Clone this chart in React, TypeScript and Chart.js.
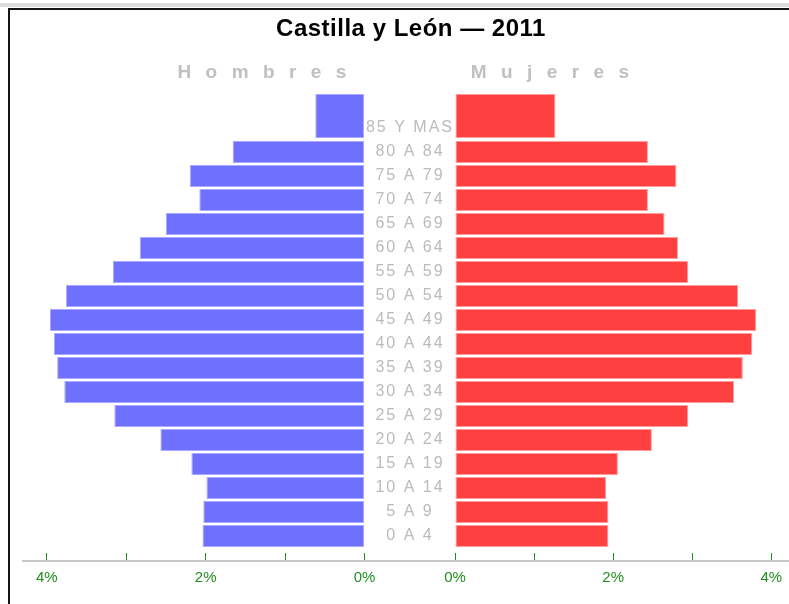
import { useEffect, useRef } from 'react';
import { Chart, registerables } from 'chart.js';

Chart.register(...registerables);

// ---------- data ----------
const TITLE = 'Castilla y León — 2011';
const SIDE_LABELS = ['Hombres', 'Mujeres'];
const AGE_GROUPS = [
  '85 Y MAS', '80 A 84', '75 A 79', '70 A 74', '65 A 69', '60 A 64', '55 A 59',
  '50 A 54', '45 A 49', '40 A 44', '35 A 39', '30 A 34', '25 A 29', '20 A 24',
  '15 A 19', '10 A 14', '5 A 9', '0 A 4',
];
const HOMBRES = [0.62, 1.66, 2.2, 2.08, 2.5, 2.83, 3.17, 3.76, 3.96, 3.91, 3.87, 3.78, 3.15, 2.57, 2.18, 1.99, 2.03, 2.04];
const MUJERES = [1.27, 2.44, 2.8, 2.44, 2.65, 2.82, 2.95, 3.58, 3.81, 3.76, 3.64, 3.53, 2.95, 2.49, 2.06, 1.91, 1.94, 1.94];
const X_TICKS = [0, 1, 2, 3, 4];
const X_TICK_LABELS = ['0%', '', '2%', '', '4%'];

// ---------- layout / style ----------
const GREEN = '#1f8f1f';
const LABEL_GREY = '#bbbbbb';
const X_MAX = 4.3;
const GAP = 1.139;
const Y_MIN = -0.5;
const Y_MAX = 19.042;
const BAR_PCT = 0.9167;

const COLORS = {
  left: { bg: '#7070ff', border: '#a9a9ff' },
  right: { bg: '#ff4040', border: '#ff9c9c' },
};

function makeConfig(values: number[], side: 'left' | 'right'): any {
  const c = COLORS[side];
  const isLeft = side === 'left';
  const common = {
    backgroundColor: c.bg,
    borderColor: c.border,
    borderWidth: 1,
    borderSkipped: false,
    grouped: false,
    barPercentage: BAR_PCT,
  };
  return {
    type: 'bar',
    data: {
      datasets: [
        {
          ...common,
          label: SIDE_LABELS[isLeft ? 0 : 1],
          categoryPercentage: 1,
          data: values.slice(1).map((v, i) => ({ x: v, y: i + 2 })),
        },
        {
          ...common,
          label: AGE_GROUPS[0],
          categoryPercentage: 2,
          data: [{ x: values[0], y: 0.5 }],
        },
      ],
    },
    options: {
      indexAxis: 'y',
      responsive: false,
      animation: false,
      layout: {
        padding: isLeft
          ? { left: 23, right: 20, top: 92, bottom: 1 }
          : { left: 40, right: 5, top: 92, bottom: 1 },
      },
      plugins: {
        legend: { display: false },
        tooltip: { enabled: false },
        title: { display: false },
      },
      scales: {
        x: {
          type: 'linear',
          position: 'bottom',
          reverse: isLeft,
          offset: false,
          min: isLeft ? -GAP : 0,
          max: X_MAX,
          afterBuildTicks: (s: any) => {
            s.ticks = X_TICKS.map((v) => ({ value: v }));
          },
          ticks: {
            autoSkip: false,
            maxRotation: 0,
            color: GREEN,
            padding: 16,
            font: { family: 'Liberation Sans', size: 15 },
            callback: (v: any) => {
              const i = X_TICKS.indexOf(Number(v));
              return i >= 0 ? X_TICK_LABELS[i] : '';
            },
          },
          grid: {
            display: true,
            offset: false,
            drawOnChartArea: false,
            drawTicks: true,
            tickLength: -8,
            color: GREEN,
            lineWidth: 1,
          },
          border: { display: true, color: '#c8c8c8', width: 2 },
        },
        y: {
          type: 'linear',
          position: 'right',
          display: isLeft,
          reverse: true,
          offset: false,
          min: Y_MIN,
          max: Y_MAX,
          afterBuildTicks: (s: any) => {
            s.ticks = AGE_GROUPS.map((_, i) => ({ value: i + 1 }));
          },
          afterFit: (s: any) => {
            s.width = 0;
            if (!s.__spaced) {
              const orig = s.drawLabels.bind(s);
              s.drawLabels = (area: any) => {
                const ctx = s.ctx;
                ctx.save();
                try {
                  (ctx as any).letterSpacing = '2px';
                } catch (e) {
                  /* ignore */
                }
                orig(area);
                ctx.restore();
              };
              s.__spaced = true;
            }
          },
          grid: { display: false, offset: false },
          border: { display: false },
          ticks: {
            mirror: true,
            crossAlign: 'center',
            padding: -9,
            autoSkip: false,
            color: LABEL_GREY,
            font: { family: 'Liberation Sans', size: 16 },
            callback: (v: any) => AGE_GROUPS[Number(v) - 1] ?? '',
          },
        },
      },
    },
  };
}

function PyramidHalf({ values, side, left, width }: { values: number[]; side: 'left' | 'right'; left: number; width: number }) {
  const ref = useRef<HTMLCanvasElement | null>(null);
  useEffect(() => {
    if (!ref.current) return;
    const chart = new Chart(ref.current, makeConfig(values, side));
    return () => chart.destroy();
  }, [values, side]);
  return (
    <canvas
      ref={ref}
      width={width}
      height={604}
      style={{ position: 'absolute', left, top: 0, width, height: 604 }}
    />
  );
}

export default function App() {
  const sideStyle: any = {
    position: 'absolute',
    top: 62,
    fontFamily: 'Liberation Sans, Arial, sans-serif',
    fontWeight: 'bold',
    fontSize: 19,
    lineHeight: '19px',
    letterSpacing: '14.4px',
    color: '#c0c0c0',
    whiteSpace: 'nowrap',
  };
  return (
    <div
      style={{
        position: 'fixed',
        left: 0,
        top: 0,
        width: 789,
        height: 604,
        overflow: 'hidden',
        background: '#ffffff',
      }}
    >
      <div style={{ position: 'absolute', left: 0, top: 3, width: 789, height: 4, background: '#dddddd' }} />
      <div
        style={{
          position: 'absolute',
          left: 8,
          top: 8,
          width: 900,
          height: 700,
          borderTop: '2px solid #151515',
          borderLeft: '2px solid #151515',
        }}
      />
      <PyramidHalf values={HOMBRES} side="left" left={0} width={475} />
      <PyramidHalf values={MUJERES} side="right" left={415} width={385} />
      <div
        style={{
          position: 'absolute',
          left: 211,
          top: 16,
          width: 400,
          textAlign: 'center',
          fontFamily: 'Liberation Sans, Arial, sans-serif',
          fontWeight: 'bold',
          fontSize: 24,
          lineHeight: '24px',
          letterSpacing: '0.5px',
          color: '#000',
          whiteSpace: 'nowrap',
        }}
      >
        {TITLE}
      </div>
      <div style={{ ...sideStyle, left: 177.5 }}>{SIDE_LABELS[0]}</div>
      <div style={{ ...sideStyle, left: 470.8 }}>{SIDE_LABELS[1]}</div>
    </div>
  );
}
